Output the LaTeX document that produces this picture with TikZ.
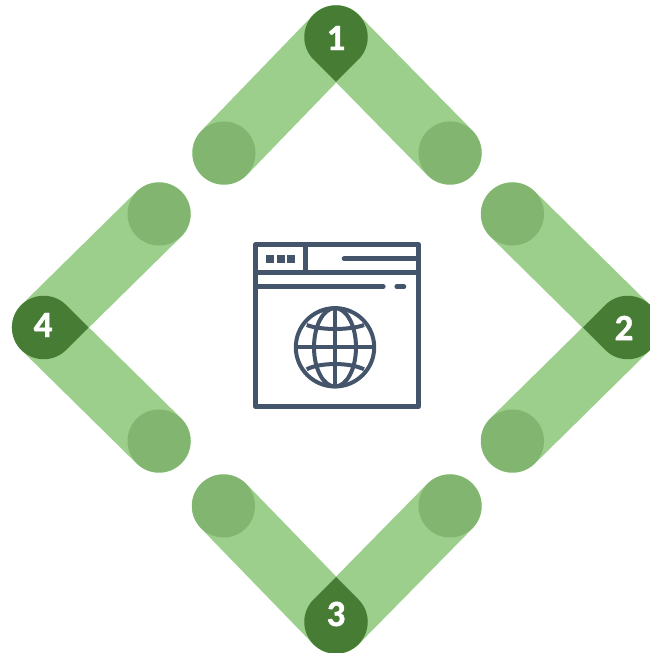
\documentclass[tikz,border=0pt]{standalone}
\usepackage{xcolor}
\usepackage{fontspec}
\setmainfont{Carlito}[BoldFeatures={FakeBold=1.2}]
\usepackage{tikz}
\usetikzlibrary{calc}
\definecolor{myband}{RGB}{156,207,140}
\definecolor{myend}{RGB}{130,181,112}
\definecolor{mydrop}{RGB}{71,124,53}
\definecolor{myicon}{RGB}{68,84,106}
\tikzset{
  band/.style={draw=myband, line width=63.5pt, line cap=round},
  endcap/.style={circle, fill=myend, minimum size=63pt, inner sep=0pt},
  drop/.style={fill=mydrop},
  num/.style={text=white, inner sep=0pt, font=\fontsize{37}{37}\selectfont\bfseries},
  iconline/.style={draw=myicon, line width=4.6pt, line cap=round, line join=round},
  globeline/.style={draw=myicon, line width=4pt},
  dot/.style={fill=myicon}
}
\begin{document}
\begin{tikzpicture}[x=1pt, y=1pt]
  \useasboundingbox (0,0) rectangle (649,653);
  \coordinate (top) at (336,616);
  \coordinate (right) at (627.7,325.5);
  \coordinate (bottom) at (336,31);
  \coordinate (left) at (43.7,325.5);
  \coordinate (a1) at (224,500);
  \coordinate (b1) at (450,500);
  \coordinate (a2) at (512.5,439);
  \coordinate (b2) at (512.5,212);
  \coordinate (a3) at (450,147);
  \coordinate (b3) at (223.5,147);
  \coordinate (a4) at (159,212);
  \coordinate (b4) at (159,439);

  \draw[band] (a1) -- (top);
  \draw[band] (b1) -- (top);
  \draw[band] (a2) -- (right);
  \draw[band] (b2) -- (right);
  \draw[band] (a3) -- (bottom);
  \draw[band] (b3) -- (bottom);
  \draw[band] (a4) -- (left);
  \draw[band] (b4) -- (left);

  \node[endcap] (c1a) at (a1) {};
  \node[endcap] (c1b) at (b1) {};
  \node[endcap] (c2a) at (a2) {};
  \node[endcap] (c2b) at (b2) {};
  \node[endcap] (c3a) at (a3) {};
  \node[endcap] (c3b) at (b3) {};
  \node[endcap] (c4a) at (a4) {};
  \node[endcap] (c4b) at (b4) {};

  % dark drops where the arms cross
  \fill[drop] (336,571) -- ++(135:31.75) arc[start angle=225, end angle=-45, radius=31.75] -- cycle;
  \fill[drop] (582.8,325.5) -- ++(45:31.75) arc[start angle=135, end angle=-135, radius=31.75] -- cycle;
  \fill[drop] (336,76) -- ++(-45:31.75) arc[start angle=45, end angle=-225, radius=31.75] -- cycle;
  \fill[drop] (88.6,325.5) -- ++(-135:31.75) arc[start angle=-45, end angle=-315, radius=31.75] -- cycle;

  \node[num] (n1) at (336,615) {1};
  \node[num] (n2) at (624,325) {2};
  \node[num] (n3) at (336,39) {3};
  \node[num] (n4) at (43,328) {4};

  % browser window
  \draw[iconline] (255.5,408.7) rectangle (418.3,246.3);
  \draw[iconline] (255.5,380.3) -- (418.3,380.3);
  \draw[iconline] (305.3,408.7) -- (305.3,380.3);
  \draw[iconline] (344,394.3) -- (418.3,394.3);
  \draw[iconline] (255.5,366.3) -- (383.3,366.3);
  \draw[iconline] (396.7,366.3) -- (404,366.3);
  \fill[dot] (266,390.3) rectangle (274.3,398.3);
  \fill[dot] (276.7,390.3) rectangle (284.7,398.3);
  \fill[dot] (287,390.3) rectangle (295,398.3);

  % globe
  \coordinate (gc) at (335,305.7);
  \draw[globeline] (gc) circle[radius=39.2];
  \draw[globeline] (gc) ellipse[x radius=21, y radius=39.2];
  \draw[globeline] ($(gc)+(0,39.2)$) -- ($(gc)+(0,-39.2)$);
  \draw[globeline] ($(gc)+(-39.2,0)$) -- ($(gc)+(39.2,0)$);
  \draw[globeline] (306.7,328) .. controls (320,322.7) and (350,322.7) .. (364,328);
  \draw[globeline] (306.7,283.7) .. controls (320,290.7) and (350,290.7) .. (364,283.7);
\end{tikzpicture}
\end{document}
